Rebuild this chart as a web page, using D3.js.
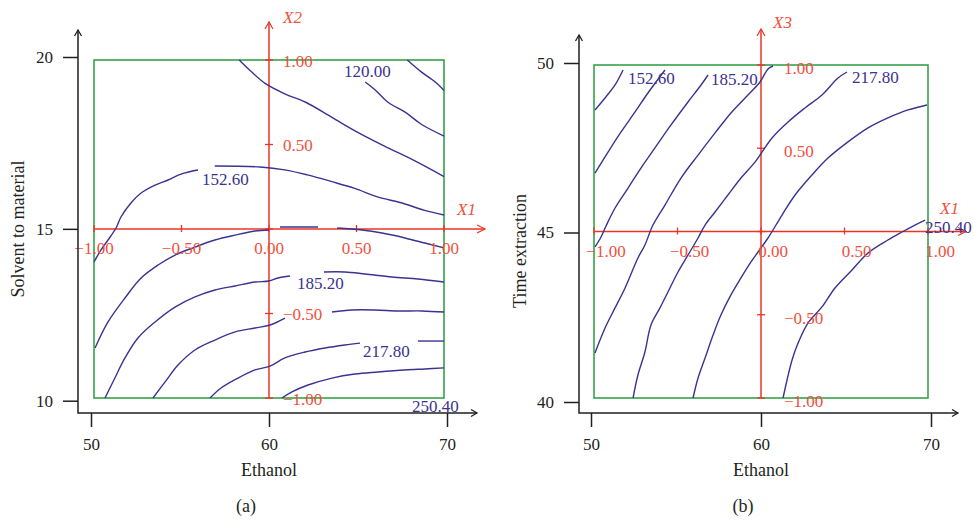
<!DOCTYPE html>
<html>
<head>
<meta charset="utf-8">
<script src="https://cdn.jsdelivr.net/npm/d3@7"></script>
<style>
  body { margin: 0; background: #fff; }
  svg { display: block; font-family: "Liberation Serif", "DejaVu Serif", serif; }
</style>
</head>
<body>
<svg id="chart" width="974" height="520"></svg>
<script>
// coded factor ticks (red axes) and real axis ticks (black axes)
const codedTicks = [-1, -0.5, 0, 0.5, 1];
const codedTickLabels = ["\u22121.00", "\u22120.50", "0.00", "0.50", "1.00"];
const ethanolTicks = [50, 60, 70];
const solventTicks = [10, 15, 20];
const timeTicks = [40, 45, 50];

// contour lines in coded units [X1, X2]; a line is split where a label covers it
const contoursA = [
  [[[0.79, 1.0], [0.87, 0.93], [0.95, 0.87], [1.0, 0.82]]],
  [[[0.55, 0.87], [0.61, 0.82], [0.68, 0.75], [0.78, 0.69], [0.87, 0.62], [1.0, 0.55]]],
  [[[-0.17, 1.0], [-0.10, 0.93], [-0.02, 0.86], [0.09, 0.80], [0.21, 0.75], [0.36, 0.66], [0.51, 0.57], [0.66, 0.49], [0.82, 0.41], [1.0, 0.31]]],
  [[[-1.0, -0.195], [-0.96, -0.124], [-0.92, -0.065], [-0.874, 0.006], [-0.846, 0.071], [-0.789, 0.154], [-0.731, 0.213], [-0.651, 0.26], [-0.577, 0.29], [-0.503, 0.325], [-0.406, 0.349]],
   [[-0.31, 0.373], [-0.05, 0.367], [0.09, 0.35], [0.22, 0.32], [0.36, 0.28], [0.49, 0.24], [0.62, 0.19], [0.76, 0.154], [0.89, 0.11], [1.0, 0.083]]],
  [[[-0.994, -0.704], [-0.92, -0.55], [-0.823, -0.408], [-0.731, -0.29], [-0.634, -0.213], [-0.537, -0.154], [-0.423, -0.107], [-0.309, -0.065], [-0.194, -0.036], [-0.08, -0.012], [0.0, -0.006]],
   [[0.063, 0.012], [0.28, 0.012]],
   [[0.389, 0.006], [0.531, -0.006], [0.646, -0.024], [0.777, -0.053], [0.891, -0.083], [1.0, -0.112]]],
  [[[-0.937, -1.0], [-0.88, -0.88], [-0.823, -0.763], [-0.749, -0.645], [-0.651, -0.55], [-0.537, -0.462], [-0.423, -0.402], [-0.309, -0.361], [-0.194, -0.337], [-0.08, -0.314], [0.0, -0.308], [0.051, -0.29], [0.12, -0.278]],
   [[0.314, -0.254], [0.434, -0.254], [0.549, -0.266], [0.703, -0.284], [0.851, -0.296], [1.0, -0.314]]],
  [[[-0.663, -1.0], [-0.594, -0.905], [-0.52, -0.805], [-0.423, -0.716], [-0.309, -0.657], [-0.194, -0.609], [-0.08, -0.586], [0.006, -0.568], [0.091, -0.527]],
   [[0.36, -0.491], [0.474, -0.479], [0.606, -0.479], [0.737, -0.485], [0.874, -0.485], [1.0, -0.491]]],
  [[[-0.337, -1.0], [-0.274, -0.941], [-0.177, -0.882], [-0.08, -0.834], [0.006, -0.811], [0.091, -0.763], [0.206, -0.728], [0.32, -0.704], [0.434, -0.686], [0.52, -0.675]],
   [[0.851, -0.663], [1.0, -0.663]]],
  [[[0.074, -1.0], [0.131, -0.964], [0.223, -0.923], [0.36, -0.882], [0.491, -0.858], [0.623, -0.846], [0.777, -0.834], [0.891, -0.828], [1.0, -0.822]]]
];
const contourLabelsA = [
  { text: "120.00", x: 0.429, y: 0.899 },
  { text: "152.60", x: -0.383, y: 0.26 },
  { text: "185.20", x: 0.16, y: -0.355 },
  { text: "217.80", x: 0.537, y: -0.757 },
  { text: "250.40", x: 0.817, y: -1.083 }
];

// contour lines in coded units [X1, X3]
const contoursB = [
  [[[-0.994, 0.73], [-0.934, 0.802], [-0.874, 0.88], [-0.826, 0.97]]],
  [[[-0.994, 0.351], [-0.916, 0.477], [-0.838, 0.598], [-0.754, 0.718], [-0.677, 0.832], [-0.575, 0.97]]],
  [[[-0.994, -0.093], [-0.958, -0.033], [-0.928, 0.033], [-0.874, 0.141], [-0.796, 0.261], [-0.719, 0.381], [-0.635, 0.502], [-0.539, 0.64], [-0.437, 0.778], [-0.359, 0.88], [-0.317, 0.94]]],
  [[[-0.994, -0.73], [-0.934, -0.58], [-0.874, -0.459], [-0.814, -0.339], [-0.737, -0.159], [-0.695, -0.081], [-0.647, 0.039], [-0.575, 0.159], [-0.479, 0.321], [-0.377, 0.459], [-0.275, 0.592], [-0.18, 0.712], [-0.078, 0.82], [-0.006, 0.898], [0.042, 0.976], [0.072, 0.994]]],
  [[[-0.766, -1.0], [-0.737, -0.862], [-0.695, -0.724], [-0.659, -0.562], [-0.605, -0.459], [-0.557, -0.363], [-0.497, -0.243], [-0.437, -0.141], [-0.377, -0.039], [-0.335, 0.039], [-0.275, 0.117], [-0.198, 0.219], [-0.12, 0.321], [-0.036, 0.417], [0.066, 0.562], [0.162, 0.658], [0.263, 0.742], [0.365, 0.82], [0.461, 0.922], [0.515, 0.958]]],
  [[[-0.407, -1.0], [-0.377, -0.88], [-0.335, -0.76], [-0.287, -0.622], [-0.24, -0.502], [-0.18, -0.381], [-0.12, -0.279], [-0.06, -0.183], [-0.018, -0.123], [0.042, -0.039], [0.126, 0.099], [0.204, 0.219], [0.305, 0.339], [0.401, 0.441], [0.521, 0.538], [0.641, 0.622], [0.76, 0.682], [0.88, 0.73], [0.994, 0.76]]],
  [[[0.132, -1.0], [0.156, -0.892], [0.186, -0.772], [0.222, -0.67], [0.281, -0.55], [0.365, -0.453], [0.443, -0.339], [0.545, -0.231], [0.641, -0.129], [0.76, -0.051], [0.844, -0.003], [0.922, 0.039], [0.982, 0.069]]]
];
const contourLabelsB = [
  { text: "152.60", x: -0.796, y: 0.886 },
  { text: "185.20", x: -0.299, y: 0.88 },
  { text: "217.80", x: 0.545, y: 0.892 },
  { text: "250.40", x: 0.982, y: -0.01 }
];

const black = "#231f20";
const red = "#ec3426";
const redText = "#f0503c";
const green = "#35a24a";
const navy = "#3a3390";

const svg = d3.select("#chart");

function chevronUp(x, y, w, h) {
  return `M${x - w},${y + h}L${x},${y}L${x + w},${y + h}`;
}
function chevronRight(x, y, w, h) {
  return `M${x - h},${y - w}L${x},${y}L${x - h},${y + w}`;
}

function drawPanel(p) {
  const g = svg.append("g");
  const cx = d3.scaleLinear().domain([-1, 1]).range(p.boxX);
  const cy = d3.scaleLinear().domain([-1, 1]).range(p.boxY);
  const xs = d3.scaleLinear().domain([50, 70]).range(p.xRange);
  const ys = d3.scaleLinear().domain(p.yDomain).range(p.yRange);

  // green design region
  g.append("rect")
    .attr("x", cx(-1)).attr("y", cy(1))
    .attr("width", cx(1) - cx(-1)).attr("height", cy(-1) - cy(1))
    .attr("fill", "none").attr("stroke", green).attr("stroke-width", 1.6);

  // red coded axes
  const red0x = cx(0), red0y = cy(0);
  g.append("line").attr("x1", cx(-1)).attr("x2", p.redEnd)
    .attr("y1", red0y).attr("y2", red0y)
    .attr("stroke", red).attr("stroke-width", 1.5);
  g.append("line").attr("x1", red0x).attr("x2", red0x)
    .attr("y1", cy(-1)).attr("y2", p.redTop)
    .attr("stroke", red).attr("stroke-width", 1.5);
  g.append("path").attr("d", chevronRight(p.redEnd, red0y, 4, 8))
    .attr("fill", "none").attr("stroke", red).attr("stroke-width", 1.2);
  g.append("path").attr("d", chevronUp(red0x, p.redTop, 4, 7))
    .attr("fill", "none").attr("stroke", red).attr("stroke-width", 1.2);

  g.selectAll(".rtx").data(codedTicks).join("line")
    .attr("x1", d => cx(d)).attr("x2", d => cx(d))
    .attr("y1", red0y - 4).attr("y2", red0y + 3)
    .attr("stroke", red).attr("stroke-width", 1.3);
  g.selectAll(".rty").data(codedTicks).join("line")
    .attr("x1", red0x - 4).attr("x2", red0x + 4)
    .attr("y1", d => cy(d)).attr("y2", d => cy(d))
    .attr("stroke", red).attr("stroke-width", 1.3);

  // contours
  const line = d3.line()
    .x(d => cx(d[0])).y(d => cy(d[1]))
    .curve(d3.curveCatmullRom.alpha(0.5));
  g.selectAll(".contour").data(p.contours.flat()).join("path")
    .attr("d", line)
    .attr("fill", "none").attr("stroke", navy).attr("stroke-width", 1.4);

  // red tick labels
  g.selectAll(".rlx").data(codedTicks).join("text")
    .attr("x", d => cx(d) + p.xLabelDx).attr("y", red0y + 25)
    .attr("text-anchor", "middle")
    .attr("font-size", 17).attr("fill", redText)
    .text((d, i) => codedTickLabels[i]);
  g.selectAll(".rly").data(codedTicks.filter(d => d !== 0)).join("text")
    .attr("x", red0x + p.yLabelDx).attr("y", d => cy(d) + p.yLabelDy)
    .attr("dy", "0.35em")
    .attr("font-size", 17).attr("fill", redText)
    .text(d => codedTickLabels[codedTicks.indexOf(d)]);

  g.append("text").attr("x", cx(1) + p.x1Name[0]).attr("y", red0y + p.x1Name[1])
    .attr("font-size", 17).attr("font-style", "italic").attr("fill", redText)
    .text("X1");
  g.append("text").attr("x", red0x + p.x2Name[0]).attr("y", p.x2Name[1])
    .attr("font-size", 17).attr("font-style", "italic").attr("fill", redText)
    .text(p.yName);

  // contour level labels
  g.selectAll(".clab").data(p.labels).join("text")
    .attr("x", d => cx(d.x)).attr("y", d => cy(d.y))
    .attr("font-size", 17).attr("fill", navy)
    .text(d => d.text);

  // black axes
  const ax = g.append("g").attr("transform", `translate(${p.axisX},0)`)
    .call(d3.axisLeft(ys).tickValues(p.yTicks).tickSize(15).tickPadding(10));
  const bx = g.append("g").attr("transform", `translate(0,${p.axisY})`)
    .call(d3.axisBottom(xs).tickValues(ethanolTicks).tickSize(14).tickPadding(11));
  [ax, bx].forEach(a => {
    a.select(".domain").remove();
    a.selectAll("line").attr("stroke", black).attr("stroke-width", 1.5);
    a.selectAll("text").attr("font-size", 17).attr("fill", black)
      .attr("font-family", "Liberation Serif");
  });
  g.append("path")
    .attr("d", `M${p.axisX},${p.yTop}V${p.axisY}H${p.xEnd}`)
    .attr("fill", "none").attr("stroke", black).attr("stroke-width", 1.5);
  g.append("path").attr("d", chevronUp(p.axisX, p.yTop, 3.5, 6))
    .attr("fill", "none").attr("stroke", black).attr("stroke-width", 1.3);
  g.append("path").attr("d", chevronRight(p.xEnd, p.axisY, 3.5, 6))
    .attr("fill", "none").attr("stroke", black).attr("stroke-width", 1.3);

  // titles
  g.append("text").attr("x", xs(60)).attr("y", 476)
    .attr("text-anchor", "middle").attr("font-size", 18).attr("fill", black)
    .text("Ethanol");
  g.append("text")
    .attr("transform", `translate(${p.titleX},${p.titleY}) rotate(-90)`)
    .attr("text-anchor", "middle").attr("font-size", 18).attr("fill", black)
    .text(p.yTitle);
  g.append("text").attr("x", p.letterX).attr("y", 512)
    .attr("text-anchor", "middle").attr("font-size", 18).attr("fill", black)
    .text(p.letter);
}

drawPanel({
  boxX: [94, 444], boxY: [398, 60],
  xRange: [91, 447], yDomain: [10, 20], yRange: [400.7, 57],
  yTicks: solventTicks, yTitle: "Solvent to material", yName: "X2",
  contours: contoursA, labels: contourLabelsA,
  axisX: 78, axisY: 413, yTop: 30, xEnd: 477,
  redTop: 22, redEnd: 485,
  xLabelDx: 0, yLabelDx: 14, yLabelDy: 1,
  x1Name: [13, -14], x2Name: [14, 23],
  titleX: 24, titleY: 229, letterX: 246, letter: "(a)"
});

drawPanel({
  boxX: [594, 928], boxY: [398, 65],
  xRange: [591, 931], yDomain: [40, 50], yRange: [402, 63],
  yTicks: timeTicks, yTitle: "Time extraction", yName: "X3",
  contours: contoursB, labels: contourLabelsB,
  axisX: 579, axisY: 413, yTop: 35, xEnd: 958,
  redTop: 29, redEnd: 966,
  xLabelDx: 12, yLabelDx: 23, yLabelDy: 3,
  x1Name: [12, -18], x2Name: [12, 28],
  titleX: 526, titleY: 251, letterX: 743, letter: "(b)"
});
</script>
</body>
</html>
